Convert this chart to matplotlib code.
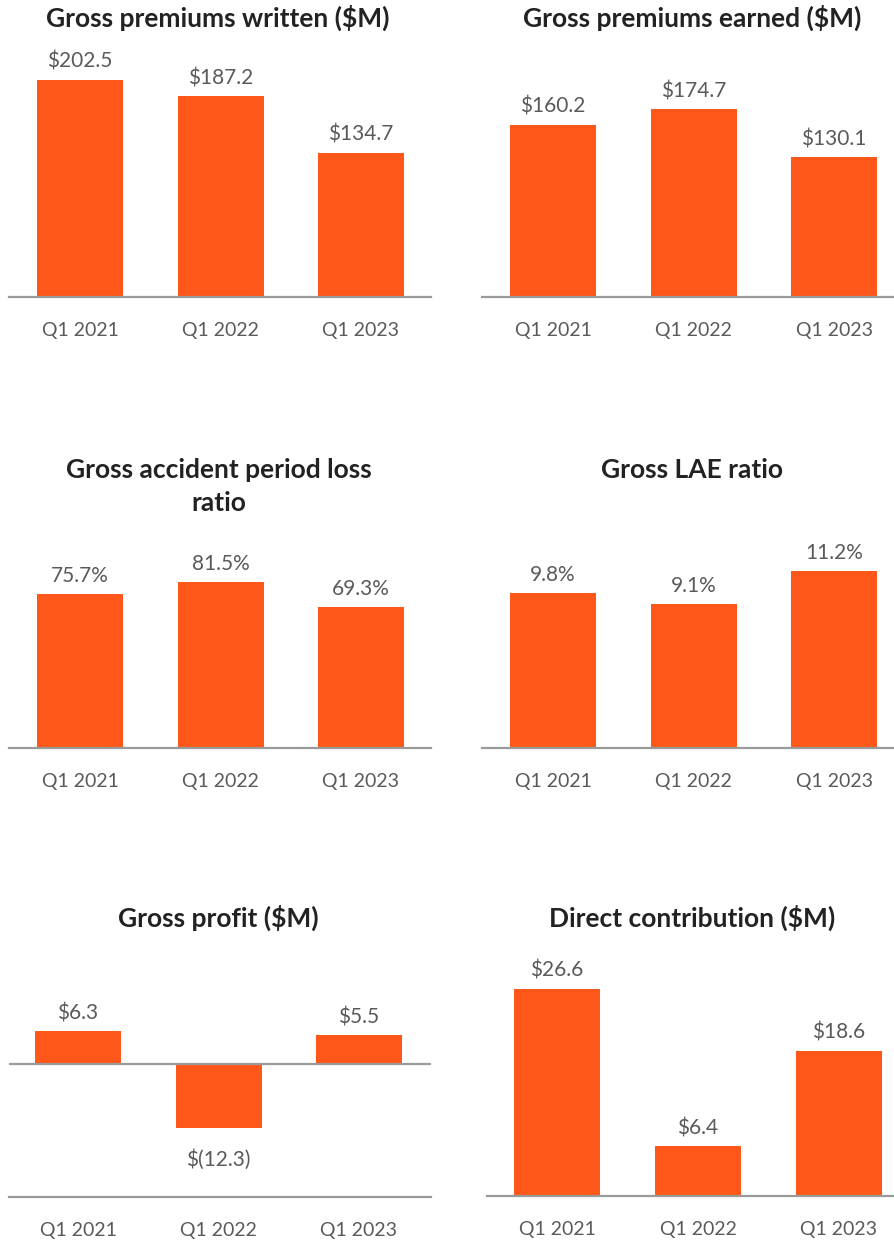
import matplotlib
matplotlib.use("Agg")
import matplotlib.pyplot as plt

plt.rcParams['font.family'] = ['Lato', 'DejaVu Sans']

quarters = ["Q1 2021", "Q1 2022", "Q1 2023"]
gpw = [202.5, 187.2, 134.7]
gpe = [160.2, 174.7, 130.1]
loss_ratio = [75.7, 81.5, 69.3]
lae_ratio = [9.8, 9.1, 11.2]
gross_profit = [6.3, -12.3, 5.5]
direct_contrib = [26.6, 6.4, 18.6]

gpw_labels = ["$202.5", "$187.2", "$134.7"]
gpe_labels = ["$160.2", "$174.7", "$130.1"]
loss_labels = ["75.7%", "81.5%", "69.3%"]
lae_labels = ["9.8%", "9.1%", "11.2%"]
gp_labels = ["$6.3", "$(12.3)", "$5.5"]
dc_labels = ["$26.6", "$6.4", "$18.6"]

W, H = 894, 1243
DPI = 100
fig = plt.figure(figsize=(W / DPI, H / DPI), dpi=DPI)

BAR = "#FF5719"
LINE = "#9a9a9a"
TXT = "#5a5a5a"
TITLE = "#222222"


def panel(left, right, zero_y, top_y, bottom_y, scale, cx, values, labels, title, title_xy):
    # pixel-based axes
    ax = fig.add_axes([left / W, 1 - bottom_y / H, (right - left) / W, (bottom_y - top_y) / H])
    ymax = (zero_y - top_y) / scale
    ymin = -(bottom_y - zero_y) / scale
    ax.set_ylim(ymin, ymax)
    x0 = cx[0]
    step = (cx[2] - cx[0]) / 2
    ax.set_xlim(-(x0 - left) / step, (right - x0) / step)
    xs = list(range(len(values)))
    ax.bar(xs, values, width=86 / step, color=BAR, zorder=2)
    for s in ["top", "right", "left"]:
        ax.spines[s].set_visible(False)
    ax.spines["bottom"].set_color(LINE)
    ax.spines["bottom"].set_linewidth(1.6)
    if ymin < 0:
        ax.axhline(0, color=LINE, lw=1.6, zorder=3)
    ax.set_yticks([])
    ax.set_xticks(xs)
    ax.set_xticklabels(quarters, fontsize=14, color=TXT)
    ax.tick_params(axis="x", length=0, pad=18)
    for x, v, lab in zip(xs, values, labels):
        off = 18 if v >= 0 else -32
        ax.annotate(lab, (x, v), xytext=(0, off), textcoords="offset pixels",
                    ha="center", va="center", fontsize=15, color=TXT)
    for i, line in enumerate(title.split("\n")):
        fig.text(title_xy[0] / W, 1 - (title_xy[1] + 33 * i) / H, line, ha="center", va="center",
                 fontsize=19, fontweight="bold", color=TITLE)
    return ax


cl = [80, 221, 361]
cr = [553, 694, 834]

panel(9, 431, 297, 40, 297, 1.072, cl, gpw, gpw_labels, "Gross premiums written ($M)", (218, 18))
panel(482, 894, 297, 40, 297, 1.076, cr, gpe, gpe_labels, "Gross premiums earned ($M)", (692, 18))
panel(9, 431, 748, 520, 748, 2.04, cl, loss_ratio, loss_labels, "Gross accident period loss\nratio", (219, 470))
panel(482, 894, 748, 520, 748, 15.8, cr, lae_ratio, lae_labels, "Gross LAE ratio", (692, 470))
panel(9, 431, 1064, 940, 1197, 5.2, [78, 218, 359], gross_profit, gp_labels, "Gross profit ($M)", (218, 918))
panel(487, 894, 1196, 940, 1196, 7.8, [557, 698, 839], direct_contrib, dc_labels, "Direct contribution ($M)", (692, 918))

fig.savefig("out.png", dpi=DPI)
